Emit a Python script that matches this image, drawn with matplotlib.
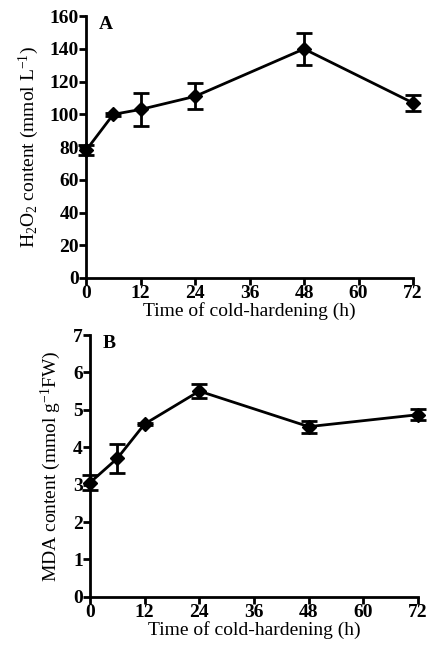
import numpy as np
import matplotlib
matplotlib.use("Agg")
import matplotlib.pyplot as plt

plt.rcParams['font.family'] = ['Liberation Serif', 'DejaVu Serif']
plt.rcParams['mathtext.fontset'] = 'custom'
plt.rcParams['mathtext.rm'] = 'Liberation Serif'
plt.rcParams['mathtext.it'] = 'Liberation Serif:italic'
plt.rcParams['mathtext.bf'] = 'Liberation Serif:bold'

# data
hours = [0, 6, 12, 24, 48, 72]
h2o2 = [78, 100, 103, 111, 140, 107]
h2o2_err = [3, 1, 10, 8, 10, 5]
mda = [3.05, 3.7, 4.62, 5.5, 4.55, 4.87]
mda_err = [0.2, 0.38, 0.03, 0.18, 0.16, 0.15]

xticks = [0, 12, 24, 36, 48, 60, 72]

fig = plt.figure(figsize=(4.28, 6.48), dpi=100)
axA = fig.add_axes([0.201, 0.571, 0.764, 0.404])
axB = fig.add_axes([0.210, 0.079, 0.767, 0.404])


def style(ax, ymax, ystep):
    ax.set_xlim(0, 72)
    ax.set_ylim(0, ymax)
    ax.set_xticks(xticks)
    ax.set_yticks(np.arange(0, ymax + ystep / 2, ystep))
    for s in ['top', 'right']:
        ax.spines[s].set_visible(False)
    for s in ['left', 'bottom']:
        ax.spines[s].set_linewidth(2)
    ax.tick_params(width=2, length=5, labelsize=14, pad=0)
    for lab in ax.get_xticklabels() + ax.get_yticklabels():
        lab.set_fontweight('bold')
    ax.set_xlabel('Time of cold-hardening (h)', fontsize=14, labelpad=0)


axA.errorbar(hours, h2o2, yerr=h2o2_err, color='black', marker='D', markersize=7.5,
             linewidth=2, elinewidth=2, capsize=6, capthick=2, clip_on=False)
style(axA, 160, 20)
axA.set_ylabel('H$_2$O$_2$ content (mmol L$^{-1}$)', fontsize=14, labelpad=6)
axA.text(0.04, 1.0, 'A', transform=axA.transAxes, fontsize=14,
         fontweight='bold', va='top')

axB.errorbar(hours, mda, yerr=mda_err, color='black', marker='D', markersize=7.5,
             linewidth=2, elinewidth=2, capsize=6, capthick=2, clip_on=False)
style(axB, 7, 1)
axB.set_ylabel('MDA content (mmol g$^{-1}$FW)', fontsize=14, labelpad=7)
axB.text(0.04, 1.0, 'B', transform=axB.transAxes, fontsize=14,
         fontweight='bold', va='top')

fig.savefig('out.png', dpi=100)
